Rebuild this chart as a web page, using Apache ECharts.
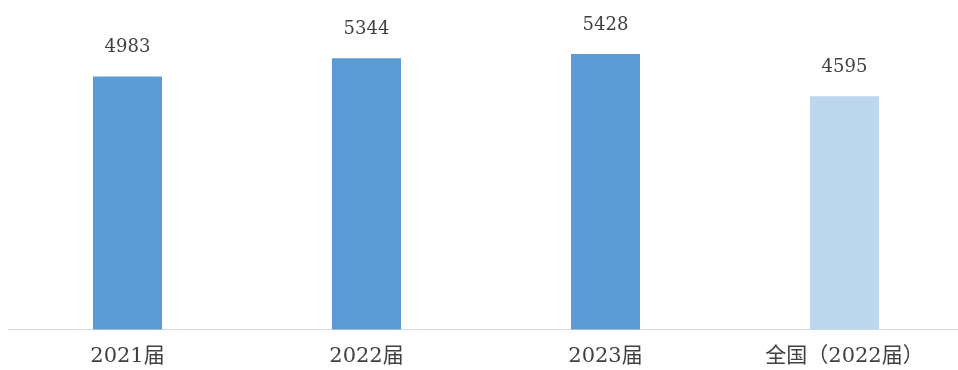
<!DOCTYPE html>
<html><head><meta charset="utf-8">
<script src="https://cdn.jsdelivr.net/npm/echarts@6/dist/echarts.min.js"></script>
<style>html,body{margin:0;padding:0;background:#fff;overflow:hidden}#c{width:964px;height:370px}</style>
</head><body><div id="c"></div>
<script>
const categories = ['2021届', '2022届', '2023届', '全国（2022届）'];
const values = [4983, 5344, 5428, 4595];
const barColors = ['#5B9BD5', '#5B9BD5', '#5B9BD5', '#BDD7EE'];
const FONT = "'DejaVu Serif', 'Noto Sans CJK SC', serif";
const chart = echarts.init(document.getElementById('c'));
chart.setOption({
  animation: false,
  grid: { left: 8, right: 0, top: 25, bottom: 40.5, containLabel: false },
  xAxis: {
    type: 'category', data: categories,
    axisLine: { lineStyle: { color: '#d9d9d9', width: 1 } },
    axisTick: { show: false },
    axisLabel: { color: '#404040', fontSize: 21, fontFamily: FONT, margin: 17 }
  },
  yAxis: { type: 'value', min: 0, max: 6000, show: false, splitLine: { show: false } },
  series: [{
    type: 'bar', barWidth: 69,
    data: values.map((v, i) => ({ value: v, itemStyle: { color: barColors[i] } })),
    label: { show: true, position: 'top', distance: 20, color: '#404040', fontSize: 18, fontFamily: FONT }
  }]
});
</script></body></html>
